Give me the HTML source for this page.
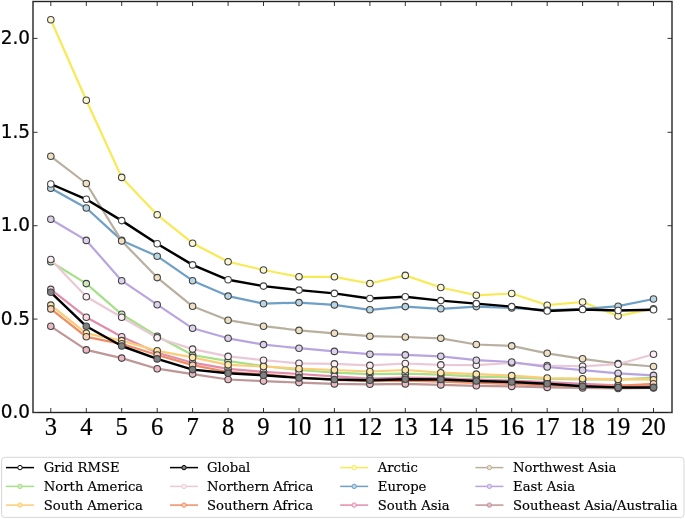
<!DOCTYPE html>
<html><head><meta charset="utf-8"><title>RMSE by region</title>
<style>
html,body{margin:0;padding:0;background:#fff;}
svg{display:block;}
.yt{font-family:"DejaVu Sans","Liberation Sans",sans-serif;font-size:18.8px;fill:#000;stroke:#000;stroke-width:0.25px;}
.xt{font-family:"Liberation Serif","DejaVu Serif",serif;font-size:26px;fill:#000;stroke:#000;stroke-width:0.22px;}
.lg{font-family:"DejaVu Serif","Liberation Serif",serif;font-size:13.2px;fill:#000;stroke:#000;stroke-width:0.15px;}
</style></head><body>
<svg width="685" height="519" viewBox="0 0 685 519">
<rect width="685" height="519" fill="#fff"/>
<defs><filter id="soft" x="0" y="0" width="685" height="519" filterUnits="userSpaceOnUse"><feGaussianBlur stdDeviation="0.35"/></filter></defs>
<g filter="url(#soft)">
<g><polyline points="50.8,19.7 86.3,100.2 121.7,177.4 157.2,214.8 192.6,243.2 228.1,261.7 263.5,270.0 299.0,276.8 334.4,276.8 369.9,283.5 405.3,275.4 440.8,287.5 476.3,295.3 511.7,293.5 547.2,305.2 582.6,302.0 618.1,316.0 653.5,308.7" fill="none" stroke="#f8ea54" stroke-width="2.2" stroke-linejoin="round"/><circle cx="50.8" cy="19.7" r="3.25" fill="#fcf8cf" stroke="#444" stroke-width="1.1"/><circle cx="86.3" cy="100.2" r="3.25" fill="#fcf8cf" stroke="#444" stroke-width="1.1"/><circle cx="121.7" cy="177.4" r="3.25" fill="#fcf8cf" stroke="#444" stroke-width="1.1"/><circle cx="157.2" cy="214.8" r="3.25" fill="#fcf8cf" stroke="#444" stroke-width="1.1"/><circle cx="192.6" cy="243.2" r="3.25" fill="#fcf8cf" stroke="#444" stroke-width="1.1"/><circle cx="228.1" cy="261.7" r="3.25" fill="#fcf8cf" stroke="#444" stroke-width="1.1"/><circle cx="263.5" cy="270.0" r="3.25" fill="#fcf8cf" stroke="#444" stroke-width="1.1"/><circle cx="299.0" cy="276.8" r="3.25" fill="#fcf8cf" stroke="#444" stroke-width="1.1"/><circle cx="334.4" cy="276.8" r="3.25" fill="#fcf8cf" stroke="#444" stroke-width="1.1"/><circle cx="369.9" cy="283.5" r="3.25" fill="#fcf8cf" stroke="#444" stroke-width="1.1"/><circle cx="405.3" cy="275.4" r="3.25" fill="#fcf8cf" stroke="#444" stroke-width="1.1"/><circle cx="440.8" cy="287.5" r="3.25" fill="#fcf8cf" stroke="#444" stroke-width="1.1"/><circle cx="476.3" cy="295.3" r="3.25" fill="#fcf8cf" stroke="#444" stroke-width="1.1"/><circle cx="511.7" cy="293.5" r="3.25" fill="#fcf8cf" stroke="#444" stroke-width="1.1"/><circle cx="547.2" cy="305.2" r="3.25" fill="#fcf8cf" stroke="#444" stroke-width="1.1"/><circle cx="582.6" cy="302.0" r="3.25" fill="#fcf8cf" stroke="#444" stroke-width="1.1"/><circle cx="618.1" cy="316.0" r="3.25" fill="#fcf8cf" stroke="#444" stroke-width="1.1"/><circle cx="653.5" cy="308.7" r="3.25" fill="#fcf8cf" stroke="#444" stroke-width="1.1"/></g>
<g><polyline points="50.8,188.2 86.3,208.0 121.7,240.4 157.2,256.2 192.6,280.7 228.1,296.1 263.5,303.7 299.0,302.6 334.4,304.9 369.9,309.8 405.3,306.6 440.8,308.8 476.3,306.6 511.7,308.0 547.2,310.2 582.6,309.2 618.1,306.2 653.5,299.0" fill="none" stroke="#6e9fc6" stroke-width="2.2" stroke-linejoin="round"/><circle cx="50.8" cy="188.2" r="3.25" fill="#b8d7e2" stroke="#444" stroke-width="1.1"/><circle cx="86.3" cy="208.0" r="3.25" fill="#b8d7e2" stroke="#444" stroke-width="1.1"/><circle cx="121.7" cy="240.4" r="3.25" fill="#b8d7e2" stroke="#444" stroke-width="1.1"/><circle cx="157.2" cy="256.2" r="3.25" fill="#b8d7e2" stroke="#444" stroke-width="1.1"/><circle cx="192.6" cy="280.7" r="3.25" fill="#b8d7e2" stroke="#444" stroke-width="1.1"/><circle cx="228.1" cy="296.1" r="3.25" fill="#b8d7e2" stroke="#444" stroke-width="1.1"/><circle cx="263.5" cy="303.7" r="3.25" fill="#b8d7e2" stroke="#444" stroke-width="1.1"/><circle cx="299.0" cy="302.6" r="3.25" fill="#b8d7e2" stroke="#444" stroke-width="1.1"/><circle cx="334.4" cy="304.9" r="3.25" fill="#b8d7e2" stroke="#444" stroke-width="1.1"/><circle cx="369.9" cy="309.8" r="3.25" fill="#b8d7e2" stroke="#444" stroke-width="1.1"/><circle cx="405.3" cy="306.6" r="3.25" fill="#b8d7e2" stroke="#444" stroke-width="1.1"/><circle cx="440.8" cy="308.8" r="3.25" fill="#b8d7e2" stroke="#444" stroke-width="1.1"/><circle cx="476.3" cy="306.6" r="3.25" fill="#b8d7e2" stroke="#444" stroke-width="1.1"/><circle cx="511.7" cy="308.0" r="3.25" fill="#b8d7e2" stroke="#444" stroke-width="1.1"/><circle cx="547.2" cy="310.2" r="3.25" fill="#b8d7e2" stroke="#444" stroke-width="1.1"/><circle cx="582.6" cy="309.2" r="3.25" fill="#b8d7e2" stroke="#444" stroke-width="1.1"/><circle cx="618.1" cy="306.2" r="3.25" fill="#b8d7e2" stroke="#444" stroke-width="1.1"/><circle cx="653.5" cy="299.0" r="3.25" fill="#b8d7e2" stroke="#444" stroke-width="1.1"/></g>
<g><polyline points="50.8,156.3 86.3,183.5 121.7,240.9 157.2,277.6 192.6,306.3 228.1,320.2 263.5,326.2 299.0,330.4 334.4,333.3 369.9,336.2 405.3,337.0 440.8,338.3 476.3,344.5 511.7,345.9 547.2,353.3 582.6,358.8 618.1,363.6 653.5,366.5" fill="none" stroke="#b8af9f" stroke-width="2.2" stroke-linejoin="round"/><circle cx="50.8" cy="156.3" r="3.25" fill="#f0e0c2" stroke="#444" stroke-width="1.1"/><circle cx="86.3" cy="183.5" r="3.25" fill="#f0e0c2" stroke="#444" stroke-width="1.1"/><circle cx="121.7" cy="240.9" r="3.25" fill="#f0e0c2" stroke="#444" stroke-width="1.1"/><circle cx="157.2" cy="277.6" r="3.25" fill="#f0e0c2" stroke="#444" stroke-width="1.1"/><circle cx="192.6" cy="306.3" r="3.25" fill="#f0e0c2" stroke="#444" stroke-width="1.1"/><circle cx="228.1" cy="320.2" r="3.25" fill="#f0e0c2" stroke="#444" stroke-width="1.1"/><circle cx="263.5" cy="326.2" r="3.25" fill="#f0e0c2" stroke="#444" stroke-width="1.1"/><circle cx="299.0" cy="330.4" r="3.25" fill="#f0e0c2" stroke="#444" stroke-width="1.1"/><circle cx="334.4" cy="333.3" r="3.25" fill="#f0e0c2" stroke="#444" stroke-width="1.1"/><circle cx="369.9" cy="336.2" r="3.25" fill="#f0e0c2" stroke="#444" stroke-width="1.1"/><circle cx="405.3" cy="337.0" r="3.25" fill="#f0e0c2" stroke="#444" stroke-width="1.1"/><circle cx="440.8" cy="338.3" r="3.25" fill="#f0e0c2" stroke="#444" stroke-width="1.1"/><circle cx="476.3" cy="344.5" r="3.25" fill="#f0e0c2" stroke="#444" stroke-width="1.1"/><circle cx="511.7" cy="345.9" r="3.25" fill="#f0e0c2" stroke="#444" stroke-width="1.1"/><circle cx="547.2" cy="353.3" r="3.25" fill="#f0e0c2" stroke="#444" stroke-width="1.1"/><circle cx="582.6" cy="358.8" r="3.25" fill="#f0e0c2" stroke="#444" stroke-width="1.1"/><circle cx="618.1" cy="363.6" r="3.25" fill="#f0e0c2" stroke="#444" stroke-width="1.1"/><circle cx="653.5" cy="366.5" r="3.25" fill="#f0e0c2" stroke="#444" stroke-width="1.1"/></g>
<g><polyline points="50.8,261.8 86.3,283.6 121.7,314.3 157.2,336.3 192.6,355.0 228.1,361.1 263.5,366.0 299.0,370.0 334.4,372.7 369.9,374.1 405.3,373.7 440.8,374.7 476.3,376.6 511.7,377.3 547.2,379.0 582.6,379.5 618.1,379.6 653.5,377.5" fill="none" stroke="#a6e088" stroke-width="2.2" stroke-linejoin="round"/><circle cx="50.8" cy="261.8" r="3.25" fill="#cdebbe" stroke="#444" stroke-width="1.1"/><circle cx="86.3" cy="283.6" r="3.25" fill="#cdebbe" stroke="#444" stroke-width="1.1"/><circle cx="121.7" cy="314.3" r="3.25" fill="#cdebbe" stroke="#444" stroke-width="1.1"/><circle cx="157.2" cy="336.3" r="3.25" fill="#cdebbe" stroke="#444" stroke-width="1.1"/><circle cx="192.6" cy="355.0" r="3.25" fill="#cdebbe" stroke="#444" stroke-width="1.1"/><circle cx="228.1" cy="361.1" r="3.25" fill="#cdebbe" stroke="#444" stroke-width="1.1"/><circle cx="263.5" cy="366.0" r="3.25" fill="#cdebbe" stroke="#444" stroke-width="1.1"/><circle cx="299.0" cy="370.0" r="3.25" fill="#cdebbe" stroke="#444" stroke-width="1.1"/><circle cx="334.4" cy="372.7" r="3.25" fill="#cdebbe" stroke="#444" stroke-width="1.1"/><circle cx="369.9" cy="374.1" r="3.25" fill="#cdebbe" stroke="#444" stroke-width="1.1"/><circle cx="405.3" cy="373.7" r="3.25" fill="#cdebbe" stroke="#444" stroke-width="1.1"/><circle cx="440.8" cy="374.7" r="3.25" fill="#cdebbe" stroke="#444" stroke-width="1.1"/><circle cx="476.3" cy="376.6" r="3.25" fill="#cdebbe" stroke="#444" stroke-width="1.1"/><circle cx="511.7" cy="377.3" r="3.25" fill="#cdebbe" stroke="#444" stroke-width="1.1"/><circle cx="547.2" cy="379.0" r="3.25" fill="#cdebbe" stroke="#444" stroke-width="1.1"/><circle cx="582.6" cy="379.5" r="3.25" fill="#cdebbe" stroke="#444" stroke-width="1.1"/><circle cx="618.1" cy="379.6" r="3.25" fill="#cdebbe" stroke="#444" stroke-width="1.1"/><circle cx="653.5" cy="377.5" r="3.25" fill="#cdebbe" stroke="#444" stroke-width="1.1"/></g>
<g><polyline points="50.8,259.5 86.3,296.7 121.7,317.3 157.2,337.8 192.6,349.1 228.1,356.4 263.5,360.2 299.0,363.3 334.4,363.9 369.9,365.4 405.3,363.5 440.8,364.9 476.3,365.2 511.7,363.0 547.2,365.5 582.6,366.3 618.1,364.2 653.5,354.3" fill="none" stroke="#ebc8d6" stroke-width="2.2" stroke-linejoin="round"/><circle cx="50.8" cy="259.5" r="3.25" fill="#fbeef5" stroke="#444" stroke-width="1.1"/><circle cx="86.3" cy="296.7" r="3.25" fill="#fbeef5" stroke="#444" stroke-width="1.1"/><circle cx="121.7" cy="317.3" r="3.25" fill="#fbeef5" stroke="#444" stroke-width="1.1"/><circle cx="157.2" cy="337.8" r="3.25" fill="#fbeef5" stroke="#444" stroke-width="1.1"/><circle cx="192.6" cy="349.1" r="3.25" fill="#fbeef5" stroke="#444" stroke-width="1.1"/><circle cx="228.1" cy="356.4" r="3.25" fill="#fbeef5" stroke="#444" stroke-width="1.1"/><circle cx="263.5" cy="360.2" r="3.25" fill="#fbeef5" stroke="#444" stroke-width="1.1"/><circle cx="299.0" cy="363.3" r="3.25" fill="#fbeef5" stroke="#444" stroke-width="1.1"/><circle cx="334.4" cy="363.9" r="3.25" fill="#fbeef5" stroke="#444" stroke-width="1.1"/><circle cx="369.9" cy="365.4" r="3.25" fill="#fbeef5" stroke="#444" stroke-width="1.1"/><circle cx="405.3" cy="363.5" r="3.25" fill="#fbeef5" stroke="#444" stroke-width="1.1"/><circle cx="440.8" cy="364.9" r="3.25" fill="#fbeef5" stroke="#444" stroke-width="1.1"/><circle cx="476.3" cy="365.2" r="3.25" fill="#fbeef5" stroke="#444" stroke-width="1.1"/><circle cx="511.7" cy="363.0" r="3.25" fill="#fbeef5" stroke="#444" stroke-width="1.1"/><circle cx="547.2" cy="365.5" r="3.25" fill="#fbeef5" stroke="#444" stroke-width="1.1"/><circle cx="582.6" cy="366.3" r="3.25" fill="#fbeef5" stroke="#444" stroke-width="1.1"/><circle cx="618.1" cy="364.2" r="3.25" fill="#fbeef5" stroke="#444" stroke-width="1.1"/><circle cx="653.5" cy="354.3" r="3.25" fill="#fbeef5" stroke="#444" stroke-width="1.1"/></g>
<g><polyline points="50.8,219.3 86.3,240.4 121.7,280.7 157.2,304.7 192.6,328.3 228.1,338.3 263.5,344.6 299.0,348.2 334.4,351.4 369.9,354.2 405.3,354.9 440.8,356.3 476.3,360.2 511.7,362.0 547.2,367.0 582.6,370.2 618.1,373.3 653.5,375.4" fill="none" stroke="#b8a4e0" stroke-width="2.2" stroke-linejoin="round"/><circle cx="50.8" cy="219.3" r="3.25" fill="#dcd2ea" stroke="#444" stroke-width="1.1"/><circle cx="86.3" cy="240.4" r="3.25" fill="#dcd2ea" stroke="#444" stroke-width="1.1"/><circle cx="121.7" cy="280.7" r="3.25" fill="#dcd2ea" stroke="#444" stroke-width="1.1"/><circle cx="157.2" cy="304.7" r="3.25" fill="#dcd2ea" stroke="#444" stroke-width="1.1"/><circle cx="192.6" cy="328.3" r="3.25" fill="#dcd2ea" stroke="#444" stroke-width="1.1"/><circle cx="228.1" cy="338.3" r="3.25" fill="#dcd2ea" stroke="#444" stroke-width="1.1"/><circle cx="263.5" cy="344.6" r="3.25" fill="#dcd2ea" stroke="#444" stroke-width="1.1"/><circle cx="299.0" cy="348.2" r="3.25" fill="#dcd2ea" stroke="#444" stroke-width="1.1"/><circle cx="334.4" cy="351.4" r="3.25" fill="#dcd2ea" stroke="#444" stroke-width="1.1"/><circle cx="369.9" cy="354.2" r="3.25" fill="#dcd2ea" stroke="#444" stroke-width="1.1"/><circle cx="405.3" cy="354.9" r="3.25" fill="#dcd2ea" stroke="#444" stroke-width="1.1"/><circle cx="440.8" cy="356.3" r="3.25" fill="#dcd2ea" stroke="#444" stroke-width="1.1"/><circle cx="476.3" cy="360.2" r="3.25" fill="#dcd2ea" stroke="#444" stroke-width="1.1"/><circle cx="511.7" cy="362.0" r="3.25" fill="#dcd2ea" stroke="#444" stroke-width="1.1"/><circle cx="547.2" cy="367.0" r="3.25" fill="#dcd2ea" stroke="#444" stroke-width="1.1"/><circle cx="582.6" cy="370.2" r="3.25" fill="#dcd2ea" stroke="#444" stroke-width="1.1"/><circle cx="618.1" cy="373.3" r="3.25" fill="#dcd2ea" stroke="#444" stroke-width="1.1"/><circle cx="653.5" cy="375.4" r="3.25" fill="#dcd2ea" stroke="#444" stroke-width="1.1"/></g>
<g><polyline points="50.8,289.4 86.3,317.2 121.7,336.8 157.2,352.7 192.6,362.7 228.1,368.8 263.5,371.8 299.0,374.0 334.4,376.3 369.9,378.6 405.3,377.6 440.8,378.0 476.3,379.5 511.7,380.5 547.2,382.2 582.6,383.9 618.1,385.4 653.5,386.0" fill="none" stroke="#e28cab" stroke-width="2.2" stroke-linejoin="round"/><circle cx="50.8" cy="289.4" r="3.25" fill="#fbd9e6" stroke="#444" stroke-width="1.1"/><circle cx="86.3" cy="317.2" r="3.25" fill="#fbd9e6" stroke="#444" stroke-width="1.1"/><circle cx="121.7" cy="336.8" r="3.25" fill="#fbd9e6" stroke="#444" stroke-width="1.1"/><circle cx="157.2" cy="352.7" r="3.25" fill="#fbd9e6" stroke="#444" stroke-width="1.1"/><circle cx="192.6" cy="362.7" r="3.25" fill="#fbd9e6" stroke="#444" stroke-width="1.1"/><circle cx="228.1" cy="368.8" r="3.25" fill="#fbd9e6" stroke="#444" stroke-width="1.1"/><circle cx="263.5" cy="371.8" r="3.25" fill="#fbd9e6" stroke="#444" stroke-width="1.1"/><circle cx="299.0" cy="374.0" r="3.25" fill="#fbd9e6" stroke="#444" stroke-width="1.1"/><circle cx="334.4" cy="376.3" r="3.25" fill="#fbd9e6" stroke="#444" stroke-width="1.1"/><circle cx="369.9" cy="378.6" r="3.25" fill="#fbd9e6" stroke="#444" stroke-width="1.1"/><circle cx="405.3" cy="377.6" r="3.25" fill="#fbd9e6" stroke="#444" stroke-width="1.1"/><circle cx="440.8" cy="378.0" r="3.25" fill="#fbd9e6" stroke="#444" stroke-width="1.1"/><circle cx="476.3" cy="379.5" r="3.25" fill="#fbd9e6" stroke="#444" stroke-width="1.1"/><circle cx="511.7" cy="380.5" r="3.25" fill="#fbd9e6" stroke="#444" stroke-width="1.1"/><circle cx="547.2" cy="382.2" r="3.25" fill="#fbd9e6" stroke="#444" stroke-width="1.1"/><circle cx="582.6" cy="383.9" r="3.25" fill="#fbd9e6" stroke="#444" stroke-width="1.1"/><circle cx="618.1" cy="385.4" r="3.25" fill="#fbd9e6" stroke="#444" stroke-width="1.1"/><circle cx="653.5" cy="386.0" r="3.25" fill="#fbd9e6" stroke="#444" stroke-width="1.1"/></g>
<g><polyline points="50.8,305.1 86.3,333.3 121.7,340.6 157.2,350.8 192.6,357.4 228.1,364.8 263.5,366.5 299.0,368.7 334.4,370.0 369.9,371.5 405.3,370.0 440.8,372.7 476.3,374.1 511.7,375.6 547.2,378.0 582.6,378.7 618.1,379.4 653.5,379.7" fill="none" stroke="#fccd78" stroke-width="2.2" stroke-linejoin="round"/><circle cx="50.8" cy="305.1" r="3.25" fill="#fee6a5" stroke="#444" stroke-width="1.1"/><circle cx="86.3" cy="333.3" r="3.25" fill="#fee6a5" stroke="#444" stroke-width="1.1"/><circle cx="121.7" cy="340.6" r="3.25" fill="#fee6a5" stroke="#444" stroke-width="1.1"/><circle cx="157.2" cy="350.8" r="3.25" fill="#fee6a5" stroke="#444" stroke-width="1.1"/><circle cx="192.6" cy="357.4" r="3.25" fill="#fee6a5" stroke="#444" stroke-width="1.1"/><circle cx="228.1" cy="364.8" r="3.25" fill="#fee6a5" stroke="#444" stroke-width="1.1"/><circle cx="263.5" cy="366.5" r="3.25" fill="#fee6a5" stroke="#444" stroke-width="1.1"/><circle cx="299.0" cy="368.7" r="3.25" fill="#fee6a5" stroke="#444" stroke-width="1.1"/><circle cx="334.4" cy="370.0" r="3.25" fill="#fee6a5" stroke="#444" stroke-width="1.1"/><circle cx="369.9" cy="371.5" r="3.25" fill="#fee6a5" stroke="#444" stroke-width="1.1"/><circle cx="405.3" cy="370.0" r="3.25" fill="#fee6a5" stroke="#444" stroke-width="1.1"/><circle cx="440.8" cy="372.7" r="3.25" fill="#fee6a5" stroke="#444" stroke-width="1.1"/><circle cx="476.3" cy="374.1" r="3.25" fill="#fee6a5" stroke="#444" stroke-width="1.1"/><circle cx="511.7" cy="375.6" r="3.25" fill="#fee6a5" stroke="#444" stroke-width="1.1"/><circle cx="547.2" cy="378.0" r="3.25" fill="#fee6a5" stroke="#444" stroke-width="1.1"/><circle cx="582.6" cy="378.7" r="3.25" fill="#fee6a5" stroke="#444" stroke-width="1.1"/><circle cx="618.1" cy="379.4" r="3.25" fill="#fee6a5" stroke="#444" stroke-width="1.1"/><circle cx="653.5" cy="379.7" r="3.25" fill="#fee6a5" stroke="#444" stroke-width="1.1"/></g>
<g><polyline points="50.8,308.9 86.3,336.8 121.7,343.8 157.2,355.0 192.6,365.1 228.1,372.0 263.5,374.3 299.0,377.4 334.4,380.0 369.9,381.2 405.3,380.6 440.8,381.7 476.3,383.0 511.7,383.9 547.2,385.6 582.6,386.6 618.1,385.8 653.5,383.8" fill="none" stroke="#f08c64" stroke-width="2.2" stroke-linejoin="round"/><circle cx="50.8" cy="308.9" r="3.25" fill="#fbd2b4" stroke="#444" stroke-width="1.1"/><circle cx="86.3" cy="336.8" r="3.25" fill="#fbd2b4" stroke="#444" stroke-width="1.1"/><circle cx="121.7" cy="343.8" r="3.25" fill="#fbd2b4" stroke="#444" stroke-width="1.1"/><circle cx="157.2" cy="355.0" r="3.25" fill="#fbd2b4" stroke="#444" stroke-width="1.1"/><circle cx="192.6" cy="365.1" r="3.25" fill="#fbd2b4" stroke="#444" stroke-width="1.1"/><circle cx="228.1" cy="372.0" r="3.25" fill="#fbd2b4" stroke="#444" stroke-width="1.1"/><circle cx="263.5" cy="374.3" r="3.25" fill="#fbd2b4" stroke="#444" stroke-width="1.1"/><circle cx="299.0" cy="377.4" r="3.25" fill="#fbd2b4" stroke="#444" stroke-width="1.1"/><circle cx="334.4" cy="380.0" r="3.25" fill="#fbd2b4" stroke="#444" stroke-width="1.1"/><circle cx="369.9" cy="381.2" r="3.25" fill="#fbd2b4" stroke="#444" stroke-width="1.1"/><circle cx="405.3" cy="380.6" r="3.25" fill="#fbd2b4" stroke="#444" stroke-width="1.1"/><circle cx="440.8" cy="381.7" r="3.25" fill="#fbd2b4" stroke="#444" stroke-width="1.1"/><circle cx="476.3" cy="383.0" r="3.25" fill="#fbd2b4" stroke="#444" stroke-width="1.1"/><circle cx="511.7" cy="383.9" r="3.25" fill="#fbd2b4" stroke="#444" stroke-width="1.1"/><circle cx="547.2" cy="385.6" r="3.25" fill="#fbd2b4" stroke="#444" stroke-width="1.1"/><circle cx="582.6" cy="386.6" r="3.25" fill="#fbd2b4" stroke="#444" stroke-width="1.1"/><circle cx="618.1" cy="385.8" r="3.25" fill="#fbd2b4" stroke="#444" stroke-width="1.1"/><circle cx="653.5" cy="383.8" r="3.25" fill="#fbd2b4" stroke="#444" stroke-width="1.1"/></g>
<g><polyline points="50.8,326.3 86.3,349.9 121.7,358.1 157.2,368.7 192.6,374.1 228.1,379.5 263.5,381.1 299.0,382.6 334.4,383.9 369.9,384.3 405.3,383.9 440.8,384.9 476.3,385.8 511.7,386.4 547.2,387.4 582.6,387.9 618.1,388.5 653.5,388.0" fill="none" stroke="#be9696" stroke-width="2.2" stroke-linejoin="round"/><circle cx="50.8" cy="326.3" r="3.25" fill="#ebb9c3" stroke="#444" stroke-width="1.1"/><circle cx="86.3" cy="349.9" r="3.25" fill="#ebb9c3" stroke="#444" stroke-width="1.1"/><circle cx="121.7" cy="358.1" r="3.25" fill="#ebb9c3" stroke="#444" stroke-width="1.1"/><circle cx="157.2" cy="368.7" r="3.25" fill="#ebb9c3" stroke="#444" stroke-width="1.1"/><circle cx="192.6" cy="374.1" r="3.25" fill="#ebb9c3" stroke="#444" stroke-width="1.1"/><circle cx="228.1" cy="379.5" r="3.25" fill="#ebb9c3" stroke="#444" stroke-width="1.1"/><circle cx="263.5" cy="381.1" r="3.25" fill="#ebb9c3" stroke="#444" stroke-width="1.1"/><circle cx="299.0" cy="382.6" r="3.25" fill="#ebb9c3" stroke="#444" stroke-width="1.1"/><circle cx="334.4" cy="383.9" r="3.25" fill="#ebb9c3" stroke="#444" stroke-width="1.1"/><circle cx="369.9" cy="384.3" r="3.25" fill="#ebb9c3" stroke="#444" stroke-width="1.1"/><circle cx="405.3" cy="383.9" r="3.25" fill="#ebb9c3" stroke="#444" stroke-width="1.1"/><circle cx="440.8" cy="384.9" r="3.25" fill="#ebb9c3" stroke="#444" stroke-width="1.1"/><circle cx="476.3" cy="385.8" r="3.25" fill="#ebb9c3" stroke="#444" stroke-width="1.1"/><circle cx="511.7" cy="386.4" r="3.25" fill="#ebb9c3" stroke="#444" stroke-width="1.1"/><circle cx="547.2" cy="387.4" r="3.25" fill="#ebb9c3" stroke="#444" stroke-width="1.1"/><circle cx="582.6" cy="387.9" r="3.25" fill="#ebb9c3" stroke="#444" stroke-width="1.1"/><circle cx="618.1" cy="388.5" r="3.25" fill="#ebb9c3" stroke="#444" stroke-width="1.1"/><circle cx="653.5" cy="388.0" r="3.25" fill="#ebb9c3" stroke="#444" stroke-width="1.1"/></g>
<g><polyline points="50.8,184.0 86.3,199.3 121.7,220.6 157.2,243.7 192.6,264.9 228.1,279.8 263.5,286.1 299.0,290.1 334.4,293.4 369.9,298.5 405.3,296.8 440.8,300.6 476.3,303.6 511.7,306.6 547.2,311.0 582.6,309.5 618.1,310.5 653.5,309.7" fill="none" stroke="#000000" stroke-width="2.45" stroke-linejoin="round"/><circle cx="50.8" cy="184.0" r="3.25" fill="#ffffff" stroke="#444" stroke-width="1.1"/><circle cx="86.3" cy="199.3" r="3.25" fill="#ffffff" stroke="#444" stroke-width="1.1"/><circle cx="121.7" cy="220.6" r="3.25" fill="#ffffff" stroke="#444" stroke-width="1.1"/><circle cx="157.2" cy="243.7" r="3.25" fill="#ffffff" stroke="#444" stroke-width="1.1"/><circle cx="192.6" cy="264.9" r="3.25" fill="#ffffff" stroke="#444" stroke-width="1.1"/><circle cx="228.1" cy="279.8" r="3.25" fill="#ffffff" stroke="#444" stroke-width="1.1"/><circle cx="263.5" cy="286.1" r="3.25" fill="#ffffff" stroke="#444" stroke-width="1.1"/><circle cx="299.0" cy="290.1" r="3.25" fill="#ffffff" stroke="#444" stroke-width="1.1"/><circle cx="334.4" cy="293.4" r="3.25" fill="#ffffff" stroke="#444" stroke-width="1.1"/><circle cx="369.9" cy="298.5" r="3.25" fill="#ffffff" stroke="#444" stroke-width="1.1"/><circle cx="405.3" cy="296.8" r="3.25" fill="#ffffff" stroke="#444" stroke-width="1.1"/><circle cx="440.8" cy="300.6" r="3.25" fill="#ffffff" stroke="#444" stroke-width="1.1"/><circle cx="476.3" cy="303.6" r="3.25" fill="#ffffff" stroke="#444" stroke-width="1.1"/><circle cx="511.7" cy="306.6" r="3.25" fill="#ffffff" stroke="#444" stroke-width="1.1"/><circle cx="547.2" cy="311.0" r="3.25" fill="#ffffff" stroke="#444" stroke-width="1.1"/><circle cx="582.6" cy="309.5" r="3.25" fill="#ffffff" stroke="#444" stroke-width="1.1"/><circle cx="618.1" cy="310.5" r="3.25" fill="#ffffff" stroke="#444" stroke-width="1.1"/><circle cx="653.5" cy="309.7" r="3.25" fill="#ffffff" stroke="#444" stroke-width="1.1"/></g>
<g><polyline points="50.8,292.3 86.3,326.3 121.7,346.0 157.2,358.9 192.6,369.6 228.1,373.3 263.5,375.3 299.0,377.9 334.4,379.5 369.9,380.3 405.3,379.2 440.8,379.5 476.3,381.0 511.7,382.0 547.2,383.8 582.6,386.3 618.1,387.4 653.5,387.4" fill="none" stroke="#000000" stroke-width="2.45" stroke-linejoin="round"/><circle cx="50.8" cy="292.3" r="3.25" fill="#808080" stroke="#444" stroke-width="1.1"/><circle cx="86.3" cy="326.3" r="3.25" fill="#808080" stroke="#444" stroke-width="1.1"/><circle cx="121.7" cy="346.0" r="3.25" fill="#808080" stroke="#444" stroke-width="1.1"/><circle cx="157.2" cy="358.9" r="3.25" fill="#808080" stroke="#444" stroke-width="1.1"/><circle cx="192.6" cy="369.6" r="3.25" fill="#808080" stroke="#444" stroke-width="1.1"/><circle cx="228.1" cy="373.3" r="3.25" fill="#808080" stroke="#444" stroke-width="1.1"/><circle cx="263.5" cy="375.3" r="3.25" fill="#808080" stroke="#444" stroke-width="1.1"/><circle cx="299.0" cy="377.9" r="3.25" fill="#808080" stroke="#444" stroke-width="1.1"/><circle cx="334.4" cy="379.5" r="3.25" fill="#808080" stroke="#444" stroke-width="1.1"/><circle cx="369.9" cy="380.3" r="3.25" fill="#808080" stroke="#444" stroke-width="1.1"/><circle cx="405.3" cy="379.2" r="3.25" fill="#808080" stroke="#444" stroke-width="1.1"/><circle cx="440.8" cy="379.5" r="3.25" fill="#808080" stroke="#444" stroke-width="1.1"/><circle cx="476.3" cy="381.0" r="3.25" fill="#808080" stroke="#444" stroke-width="1.1"/><circle cx="511.7" cy="382.0" r="3.25" fill="#808080" stroke="#444" stroke-width="1.1"/><circle cx="547.2" cy="383.8" r="3.25" fill="#808080" stroke="#444" stroke-width="1.1"/><circle cx="582.6" cy="386.3" r="3.25" fill="#808080" stroke="#444" stroke-width="1.1"/><circle cx="618.1" cy="387.4" r="3.25" fill="#808080" stroke="#444" stroke-width="1.1"/><circle cx="653.5" cy="387.4" r="3.25" fill="#808080" stroke="#444" stroke-width="1.1"/></g>
<rect x="33.0" y="1.5" width="639.0" height="411.0" fill="none" stroke="#222" stroke-width="1.4"/>
<path d="M50.8 412.5v-4.5M50.8 1.5v4.5M86.3 412.5v-4.5M86.3 1.5v4.5M121.7 412.5v-4.5M121.7 1.5v4.5M157.2 412.5v-4.5M157.2 1.5v4.5M192.6 412.5v-4.5M192.6 1.5v4.5M228.1 412.5v-4.5M228.1 1.5v4.5M263.5 412.5v-4.5M263.5 1.5v4.5M299.0 412.5v-4.5M299.0 1.5v4.5M334.4 412.5v-4.5M334.4 1.5v4.5M369.9 412.5v-4.5M369.9 1.5v4.5M405.3 412.5v-4.5M405.3 1.5v4.5M440.8 412.5v-4.5M440.8 1.5v4.5M476.3 412.5v-4.5M476.3 1.5v4.5M511.7 412.5v-4.5M511.7 1.5v4.5M547.2 412.5v-4.5M547.2 1.5v4.5M582.6 412.5v-4.5M582.6 1.5v4.5M618.1 412.5v-4.5M618.1 1.5v4.5M653.5 412.5v-4.5M653.5 1.5v4.5M33.0 412.5h4.5M672.0 412.5h-4.5M33.0 319.1h4.5M672.0 319.1h-4.5M33.0 225.7h4.5M672.0 225.7h-4.5M33.0 132.3h4.5M672.0 132.3h-4.5M33.0 38.4h4.5M672.0 38.4h-4.5" stroke="#333" stroke-width="1" fill="none"/>
<text class="yt" transform="translate(30.0,418.0) scale(0.98,1)" text-anchor="end">0.0</text><text class="yt" transform="translate(30.0,324.6) scale(0.98,1)" text-anchor="end">0.5</text><text class="yt" transform="translate(30.0,231.2) scale(0.98,1)" text-anchor="end">1.0</text><text class="yt" transform="translate(30.0,137.8) scale(0.98,1)" text-anchor="end">1.5</text><text class="yt" transform="translate(30.0,43.6) scale(0.98,1)" text-anchor="end">2.0</text>
<text class="xt" transform="translate(50.8,434.8) scale(0.945,1.01)" text-anchor="middle">3</text><text class="xt" transform="translate(86.3,434.8) scale(0.945,1.01)" text-anchor="middle">4</text><text class="xt" transform="translate(121.7,434.8) scale(0.945,1.01)" text-anchor="middle">5</text><text class="xt" transform="translate(157.2,434.8) scale(0.945,1.01)" text-anchor="middle">6</text><text class="xt" transform="translate(192.6,434.8) scale(0.945,1.01)" text-anchor="middle">7</text><text class="xt" transform="translate(228.1,434.8) scale(0.945,1.01)" text-anchor="middle">8</text><text class="xt" transform="translate(263.5,434.8) scale(0.945,1.01)" text-anchor="middle">9</text><text class="xt" transform="translate(299.0,434.8) scale(0.945,1.01)" text-anchor="middle">10</text><text class="xt" transform="translate(334.4,434.8) scale(0.945,1.01)" text-anchor="middle">11</text><text class="xt" transform="translate(369.9,434.8) scale(0.945,1.01)" text-anchor="middle">12</text><text class="xt" transform="translate(405.3,434.8) scale(0.945,1.01)" text-anchor="middle">13</text><text class="xt" transform="translate(440.8,434.8) scale(0.945,1.01)" text-anchor="middle">14</text><text class="xt" transform="translate(476.3,434.8) scale(0.945,1.01)" text-anchor="middle">15</text><text class="xt" transform="translate(511.7,434.8) scale(0.945,1.01)" text-anchor="middle">16</text><text class="xt" transform="translate(547.2,434.8) scale(0.945,1.01)" text-anchor="middle">17</text><text class="xt" transform="translate(582.6,434.8) scale(0.945,1.01)" text-anchor="middle">18</text><text class="xt" transform="translate(618.1,434.8) scale(0.945,1.01)" text-anchor="middle">19</text><text class="xt" transform="translate(653.5,434.8) scale(0.945,1.01)" text-anchor="middle">20</text>
<rect x="1.6" y="457.3" width="682.4" height="60.1" rx="3.2" ry="3.2" fill="#fff" stroke="#d6d6d6" stroke-width="1"/>
<path d="M6.0 467.6h28" stroke="#000000" stroke-width="1.5"/><circle cx="20.0" cy="467.6" r="2.2" fill="#ffffff" stroke="#000" stroke-width="1"/><text class="lg" x="43.8" y="472.2">Grid RMSE</text>
<path d="M6.0 486.4h28" stroke="#a6e088" stroke-width="1.5"/><circle cx="20.0" cy="486.4" r="2.2" fill="#cdebbe" stroke="#a6e088" stroke-width="1"/><text class="lg" x="43.8" y="491.0">North America</text>
<path d="M6.0 505.1h28" stroke="#fccd78" stroke-width="1.5"/><circle cx="20.0" cy="505.1" r="2.2" fill="#fee6a5" stroke="#fccd78" stroke-width="1"/><text class="lg" x="43.8" y="509.7">South America</text>
<path d="M170.0 467.6h28" stroke="#000000" stroke-width="1.5"/><circle cx="184.0" cy="467.6" r="2.2" fill="#808080" stroke="#000" stroke-width="1"/><text class="lg" x="207.0" y="472.2">Global</text>
<path d="M170.0 486.4h28" stroke="#ebc8d6" stroke-width="1.5"/><circle cx="184.0" cy="486.4" r="2.2" fill="#fbeef5" stroke="#ebc8d6" stroke-width="1"/><text class="lg" x="207.0" y="491.0">Northern Africa</text>
<path d="M170.0 505.1h28" stroke="#f08c64" stroke-width="1.5"/><circle cx="184.0" cy="505.1" r="2.2" fill="#fbd2b4" stroke="#f08c64" stroke-width="1"/><text class="lg" x="207.0" y="509.7">Southern Africa</text>
<path d="M340.2 467.6h28" stroke="#f8ea54" stroke-width="1.5"/><circle cx="354.2" cy="467.6" r="2.2" fill="#fcf8cf" stroke="#f8ea54" stroke-width="1"/><text class="lg" x="377.8" y="472.2">Arctic</text>
<path d="M340.2 486.4h28" stroke="#6e9fc6" stroke-width="1.5"/><circle cx="354.2" cy="486.4" r="2.2" fill="#b8d7e2" stroke="#6e9fc6" stroke-width="1"/><text class="lg" x="377.8" y="491.0">Europe</text>
<path d="M340.2 505.1h28" stroke="#e28cab" stroke-width="1.5"/><circle cx="354.2" cy="505.1" r="2.2" fill="#fbd9e6" stroke="#e28cab" stroke-width="1"/><text class="lg" x="377.8" y="509.7">South Asia</text>
<path d="M475.4 467.6h28" stroke="#b8af9f" stroke-width="1.5"/><circle cx="489.4" cy="467.6" r="2.2" fill="#f0e0c2" stroke="#b8af9f" stroke-width="1"/><text class="lg" x="513.0" y="472.2">Northwest Asia</text>
<path d="M475.4 486.4h28" stroke="#b8a4e0" stroke-width="1.5"/><circle cx="489.4" cy="486.4" r="2.2" fill="#dcd2ea" stroke="#b8a4e0" stroke-width="1"/><text class="lg" x="513.0" y="491.0">East Asia</text>
<path d="M475.4 505.1h28" stroke="#be9696" stroke-width="1.5"/><circle cx="489.4" cy="505.1" r="2.2" fill="#ebb9c3" stroke="#be9696" stroke-width="1"/><text class="lg" x="513.0" y="509.7">Southeast Asia/Australia</text>
</g></svg></body></html>
